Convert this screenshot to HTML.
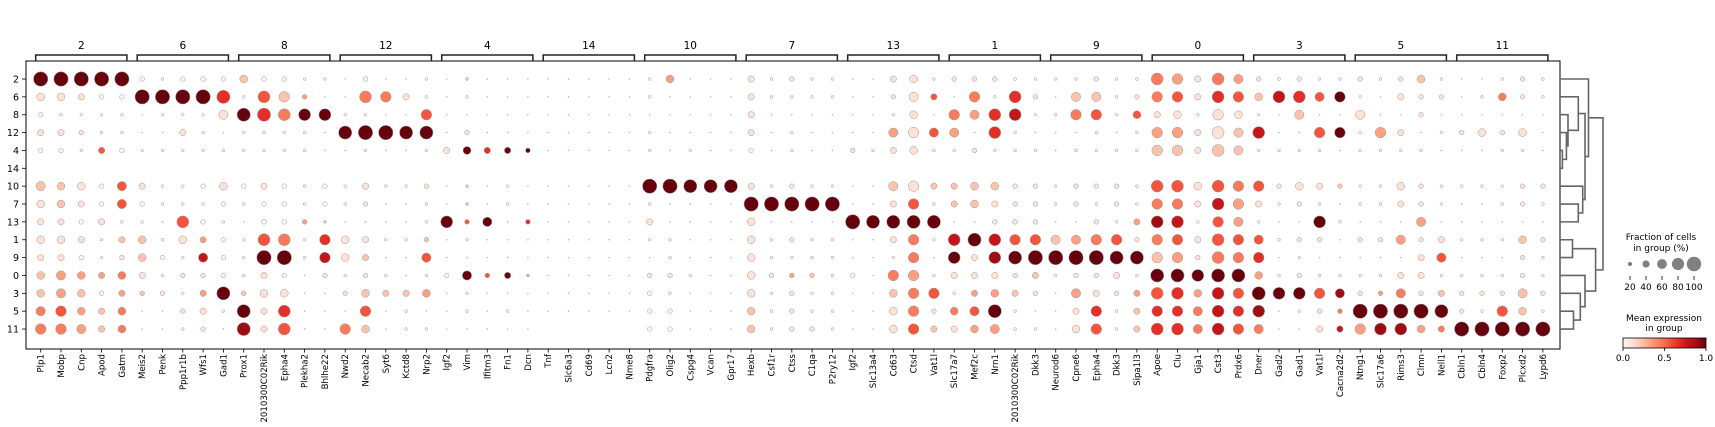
<!DOCTYPE html>
<html><head><meta charset="utf-8">
<style>
html,body{margin:0;padding:0;background:#fff;}
svg{display:block;font-family:"DejaVu Sans","Liberation Sans",sans-serif;}
</style></head>
<body>
<svg id="chart" width="1715" height="427" viewBox="0 0 1715 427" xmlns="http://www.w3.org/2000/svg">
<defs>
<linearGradient id="redsGrad" x1="0" x2="1" y1="0" y2="0">
<stop offset="0" stop-color="#fff5f0"/><stop offset="0.125" stop-color="#fee0d2"/><stop offset="0.25" stop-color="#fcbba1"/><stop offset="0.375" stop-color="#fc9272"/><stop offset="0.5" stop-color="#fb6a4a"/><stop offset="0.625" stop-color="#ef3b2c"/><stop offset="0.75" stop-color="#cb181d"/><stop offset="0.875" stop-color="#a50f15"/><stop offset="1" stop-color="#67000d"/>
</linearGradient>
</defs>
<g id="plot"></g>
</svg>
<script>
const groupNames = ["2","6","8","12","4","14","10","7","13","1","9","0","3","5","11"];
const rowLabels = ["2","6","8","12","4","14","10","7","13","1","9","0","3","5","11"];
const geneNames = ["Plp1","Mobp","Cnp","Apod","Gatm","Meis2","Penk","Ppp1r1b","Wfs1","Gad1","Prox1","2010300C02Rik","Epha4","Plekha2","Bhlhe22","Nwd2","Necab2","Syt6","Kctd8","Nrp2","Igf2","Vim","Ifitm3","Fn1","Dcn","Tnf","Slc6a3","Cd69","Lcn2","Nme8","Pdgfra","Olig2","Cspg4","Vcan","Gpr17","Hexb","Csf1r","Ctss","C1qa","P2ry12","Igf2","Slc13a4","Cd63","Ctsd","Vat1l","Slc17a7","Mef2c","Nrn1","2010300C02Rik","Dkk3","Neurod6","Cpne6","Epha4","Dkk3","Sipa1l3","Apoe","Clu","Gja1","Cst3","Prdx6","Dner","Gad2","Gad1","Vat1l","Cacna2d2","Ntng1","Slc17a6","Rims3","Clmn","Nell1","Cbln1","Cbln4","Foxp2","Plcxd2","Lypd6"];
// each cell: two digits "sc" = fraction digit (0-9) and mean-expression digit (0-9); "--" = no dot
const cells = [
"99 99 99 99 99 20 10 20 20 20 42 20 20 10 10 00 20 00 00 10 00 12 00 00 00 00 00 00 00 00 10 43 00 00 00 31 10 21 10 10 00 00 31 41 10 21 21 21 10 10 10 10 21 10 10 74 63 31 74 53 21 10 21 10 10 21 10 21 42 10 00 00 10 21 10",
"41 41 31 20 20 99 99 99 99 86 10 75 62 23 00 00 74 64 31 10 00 10 00 00 00 00 00 00 00 00 10 00 00 00 00 31 10 11 10 10 00 00 21 51 35 00 64 10 76 21 00 52 52 10 21 64 65 31 76 65 42 77 76 55 69 10 00 31 21 21 00 10 44 21 10",
"20 10 10 10 10 00 10 10 10 51 89 86 74 79 79 10 10 00 00 65 00 00 00 00 00 00 00 00 00 00 00 00 00 00 00 31 00 00 00 00 00 00 10 41 00 64 53 76 77 10 10 64 65 10 45 31 41 10 61 41 10 00 52 00 00 51 00 00 21 00 00 00 00 00 00",
"31 31 21 10 10 00 00 31 10 00 10 10 10 10 00 89 99 99 89 89 00 21 00 00 00 00 00 00 00 00 10 00 00 00 00 31 00 10 00 00 00 00 53 61 55 53 00 76 10 00 00 00 10 00 10 63 63 31 71 52 77 00 00 65 69 10 63 31 00 10 21 41 21 41 00",
"20 20 10 35 20 10 10 10 10 10 10 10 10 10 00 00 10 00 00 10 31 49 36 39 29 00 00 00 00 00 10 00 10 00 00 20 00 10 00 00 21 10 31 41 10 10 21 10 10 10 00 10 10 10 10 62 62 31 72 52 10 10 10 10 00 10 10 10 10 00 00 00 10 10 00",
"-- -- -- -- -- -- -- -- -- -- -- -- -- -- -- -- -- -- -- -- -- -- -- -- -- -- -- -- -- -- -- -- -- -- -- -- -- -- -- -- -- -- -- -- -- -- -- -- -- -- -- -- -- -- -- -- -- -- -- -- -- -- -- -- -- -- -- -- -- -- -- -- -- -- --",
"52 42 41 20 55 31 10 10 20 41 20 31 20 10 20 10 31 10 10 21 00 12 00 10 00 00 00 00 00 00 99 99 89 89 89 31 10 21 10 10 00 00 52 61 32 32 42 42 21 21 10 21 21 21 10 75 75 41 75 64 65 21 41 31 22 10 10 41 21 10 10 10 10 21 21",
"41 42 31 20 55 20 10 10 10 20 10 20 20 10 20 10 21 00 00 10 00 12 00 10 00 00 00 00 00 00 10 00 00 00 00 99 99 99 99 99 00 00 31 65 10 32 42 31 21 21 10 21 10 21 10 64 64 31 77 63 31 10 21 10 00 10 10 31 21 10 00 00 10 21 10",
"31 31 20 31 10 10 00 75 20 10 00 20 20 23 12 00 00 00 00 10 79 25 59 00 26 00 00 00 00 00 31 00 00 00 00 41 00 00 00 00 99 89 89 89 89 00 00 21 21 21 00 00 21 10 33 78 77 10 65 53 10 00 00 79 10 00 00 00 53 00 00 00 00 00 00",
"41 41 31 10 32 42 10 41 33 20 10 75 74 10 66 41 31 10 10 22 00 10 00 00 00 00 00 00 00 00 10 10 00 00 00 41 10 21 10 10 00 00 31 64 10 77 89 77 65 65 52 53 64 65 21 64 65 31 75 65 55 10 21 21 00 21 21 53 21 31 10 10 10 42 21",
"31 31 20 10 21 42 20 10 57 20 10 99 99 10 67 41 32 00 00 55 00 00 00 00 00 00 00 00 00 00 00 10 00 00 00 41 10 10 10 10 00 00 10 64 00 79 31 78 89 99 99 99 99 89 89 62 63 21 74 64 66 00 10 00 00 00 00 00 31 55 00 00 00 21 10",
"42 53 43 33 44 31 10 21 21 20 10 31 20 00 21 10 21 10 00 10 20 59 25 39 13 00 00 00 00 00 21 21 10 00 00 41 21 23 22 10 20 00 64 63 10 31 31 31 21 32 10 21 21 31 10 89 89 79 89 89 43 10 21 10 10 10 10 31 31 10 10 10 10 21 10",
"42 53 42 20 33 22 21 10 33 89 22 41 41 00 00 21 42 32 32 43 00 10 00 00 00 00 00 00 00 00 20 10 00 00 00 41 10 21 10 10 00 00 42 64 65 10 33 43 32 21 00 53 31 21 33 75 76 43 77 65 89 79 79 65 58 21 23 54 21 32 21 21 21 52 21",
"54 65 43 32 44 00 00 21 31 10 89 31 76 00 00 00 65 00 10 00 00 10 00 10 00 00 00 00 00 00 20 20 00 00 00 42 10 21 10 10 00 00 41 64 21 44 55 89 10 00 00 31 66 10 32 66 66 54 77 66 78 00 10 21 24 99 99 99 99 89 21 10 65 42 10",
"64 64 53 32 44 00 00 10 21 00 88 31 75 00 00 64 42 00 10 10 00 00 00 00 00 -- -- -- -- -- 20 20 00 00 00 42 10 21 21 10 00 00 41 65 32 31 43 53 10 10 00 41 65 10 32 76 76 54 77 65 54 00 00 31 37 63 78 78 43 34 99 99 99 99 99"
];
const sizeLegendValues = [20,40,60,80,100];
const colorTicks = [0.0,0.5,1.0];

const NS = "http://www.w3.org/2000/svg";
const root = document.getElementById("plot");
function mk(tag, attrs, parent){const e=document.createElementNS(NS,tag);for(const k in attrs)e.setAttribute(k,attrs[k]);(parent||root).appendChild(e);return e;}

const X0 = 40.7, DX = 20.3, Y0 = 79, DY = 17.86;
const FL = 26, FR = 1560, FT = 61, FB = 349;
function xOf(i){return X0 + DX*i;}
function yOf(r){return Y0 + DY*r;}
function rOf(f){return 7.2*Math.pow(f,0.75);}
const stops = ["#fff5f0","#fee0d2","#fcbba1","#fc9272","#fb6a4a","#ef3b2c","#cb181d","#a50f15","#67000d"];
function hex(h){return [1,3,5].map(i=>parseInt(h.substr(i,2),16));}
function reds(v){v=Math.max(0,Math.min(1,v));const p=v*8,i=Math.min(7,Math.floor(p)),t=p-i;const a=hex(stops[i]),b=hex(stops[i+1]);return "rgb("+a.map((c,k)=>Math.round(c+(b[k]-c)*t)).join(",")+")";}

const frame = mk("rect",{x:FL,y:FT,width:FR-FL,height:FB-FT,fill:"none",stroke:"#000","stroke-width":1});



groupNames.forEach((g,gi)=>{
  const xa = xOf(gi*5)-5, xb = xOf(gi*5+4)+5;
  const br = mk("path",{d:`M${xa},${FT} L${xa},55 L${xb},55 L${xb},${FT}`,fill:"none",stroke:"#222","stroke-width":1.5});
  
  
  const t = mk("text",{x:(xa+xb)/2,y:49,"text-anchor":"middle","font-size":10.5,fill:"#000"});
  t.textContent = g;
  
  
});

rowLabels.forEach((r,ri)=>{
  const y=yOf(ri);
  const tk = mk("line",{x1:22,x2:FL,y1:y,y2:y,stroke:"#000","stroke-width":0.8});
  
  
  const t = mk("text",{x:19,y:y+3.5,"text-anchor":"end","font-size":9.5,fill:"#000"});
  t.textContent=r;
  
  
});

geneNames.forEach((g,i)=>{
  const x=xOf(i);
  const tk = mk("line",{x1:x,x2:x,y1:FB,y2:FB+3.5,stroke:"#000","stroke-width":0.8});
  
  
  const t = mk("text",{x:0,y:0,"text-anchor":"end","font-size":8.6,fill:"#000",transform:`translate(${x+3},${FB+5}) rotate(-90)`});
  t.textContent=g;
  
  
});

cells.forEach((rowStr,ri)=>{
  rowStr.split(" ").forEach((tok,ci)=>{
    if(tok==="--") return;
    const s=+tok[0], c=+tok[1];
    const f = s===0 ? 0.03 : s/9;
    const d = mk("circle",{cx:xOf(ci),cy:yOf(ri),r:rOf(f),fill:reds(c/9),stroke:"#999","stroke-width":0.5});
    
    
  });
});

const dend = [
  [4,5,1562.4],[3,"a",1566.4],[2,"b",1568],[1,"c",1578.3],
  [7,8,1578.3],[6,"e",1582.7],["d","f",1585],[0,"g",1588.5],
  [9,10,1572.5],[13,14,1573.5],[12,"j",1580.3],[11,"k",1585],["i","l",1595.6],["h","m",1603]
];
const nodes={}; const ids="abcdefghijklmn";
function pos(n){return typeof n==="number"?{y:yOf(n),x:FR}:nodes[n];}
let dp="";
dend.forEach((m,k)=>{
  const a=pos(m[0]),b=pos(m[1]),h=m[2];
  dp+=`M${a.x},${a.y} L${h},${a.y} L${h},${b.y} L${b.x},${b.y} `;
  nodes[ids[k]]={x:h,y:(a.y+b.y)/2};
});
const dg = mk("path",{d:dp,fill:"none",stroke:"#666","stroke-width":1.6});



const lt1 = mk("text",{x:1661,y:240,"text-anchor":"middle","font-size":9,fill:"#000"}); lt1.textContent="Fraction of cells";


const lt2 = mk("text",{x:1661,y:251,"text-anchor":"middle","font-size":9,fill:"#000"}); lt2.textContent="in group (%)";


sizeLegendValues.forEach((v,i)=>{
  const x=1630+16*i;
  const c=mk("circle",{cx:x,cy:264,r:rOf(v/100),fill:"#808080"});
  
  
  const tk=mk("line",{x1:x,x2:x,y1:276,y2:280,stroke:"#000","stroke-width":0.8});
  
  
  const t=mk("text",{x:x,y:290,"text-anchor":"middle","font-size":9,fill:"#000"}); t.textContent=v;
  
  
});

const ct1 = mk("text",{x:1664,y:321,"text-anchor":"middle","font-size":9,fill:"#000"}); ct1.textContent="Mean expression";


const ct2 = mk("text",{x:1664,y:331,"text-anchor":"middle","font-size":9,fill:"#000"}); ct2.textContent="in group";


const cb = mk("rect",{x:1623,y:338,width:83,height:10,fill:"url(#redsGrad)",stroke:"#000","stroke-width":0.8});


colorTicks.forEach(v=>{
  const x=1623+83*v;
  const tk=mk("line",{x1:x,x2:x,y1:348,y2:351,stroke:"#000","stroke-width":0.8});
  
  
  const t=mk("text",{x:x,y:361,"text-anchor":"middle","font-size":9,fill:"#000"}); t.textContent=v.toFixed(1);
  
  
});
</script>
</body></html>
